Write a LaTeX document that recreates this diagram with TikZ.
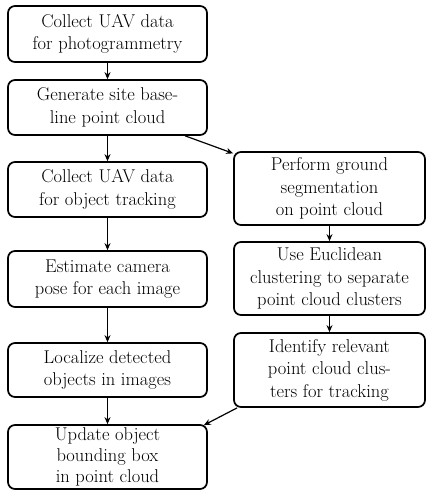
\documentclass[tikz,border=0pt]{standalone}
\usetikzlibrary{arrows.meta}
\begin{document}
\begin{tikzpicture}[x=1pt,y=-1pt,
  box/.style={draw,line width=1.7pt,rounded corners=7pt,align=center,inner sep=0pt,
    font=\fontsize{18.5}{22.5}\selectfont},
  lbox/.style={box,minimum width=199pt},
  rbox/.style={box,minimum width=191pt},
  arr/.style={line width=1.2pt,-{Stealth[length=7pt,width=6pt]}}]
\useasboundingbox (0,0) rectangle (427,500);
\node[lbox,minimum height=56pt] (L1) at (107.5,34) {Collect UAV data\\for photogrammetry};
\node[lbox,minimum height=55pt] (L2) at (107.5,107.5) {Generate site base-\\line point cloud};
\node[lbox,minimum height=55pt] (L3) at (107.5,189.5) {Collect UAV data\\for object tracking};
\node[lbox,minimum height=56pt] (L4) at (107.5,279) {Estimate camera\\pose for each image};
\node[lbox,minimum height=54pt] (L5) at (107.5,370) {Localize detected\\objects in images};
\node[lbox,minimum height=64pt,font=\fontsize{18.5}{21}\selectfont] (L6) at (107.5,457) {Update object\\bounding box\\in point cloud};
\node[rbox,minimum height=73pt] (R1) at (329.5,188.5) {Perform ground\\segmentation\\on point cloud};
\node[rbox,minimum height=73pt] (R2) at (329.5,278.5) {Use Euclidean\\clustering to separate\\point cloud clusters};
\node[rbox,minimum height=74pt] (R3) at (329.5,370) {Identify relevant\\point cloud clus-\\ters for tracking};
\draw[arr] (L1) -- (L2);
\draw[arr] (L2) -- (L3);
\draw[arr] (L3) -- (L4);
\draw[arr] (L4) -- (L5);
\draw[arr] (L5) -- (L6);
\draw[arr] (L2) -- (R1);
\draw[arr] (R1) -- (R2);
\draw[arr] (R2) -- (R3);
\draw[arr] ([xshift=4pt]R3.south west) -- ([xshift=-4pt,yshift=-1pt]L6.north east);
\end{tikzpicture}
\end{document}
